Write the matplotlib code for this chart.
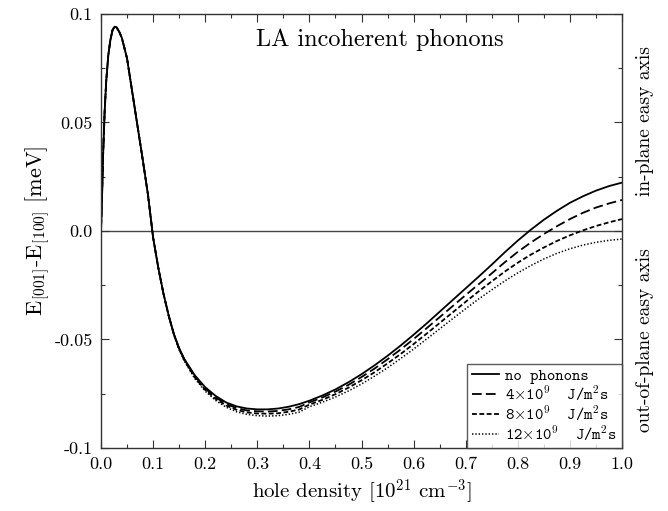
import matplotlib
matplotlib.use("Agg")
import matplotlib.pyplot as plt
from matplotlib.ticker import MultipleLocator, FixedLocator, FixedFormatter

# hole density grid [10^21 cm^-3]
density = [0.0, 0.002, 0.004, 0.007, 0.010, 0.014, 0.018, 0.022, 0.026, 0.030,
           0.035, 0.040, 0.050, 0.060, 0.070, 0.080, 0.090, 0.100, 0.110, 0.120,
           0.130, 0.140, 0.150, 0.160, 0.180, 0.200, 0.220, 0.240, 0.260, 0.280,
           0.300, 0.320, 0.340, 0.360, 0.380,
           0.400, 0.425, 0.450, 0.475, 0.500, 0.525, 0.550, 0.575, 0.600, 0.625,
           0.650, 0.675, 0.700, 0.725, 0.750, 0.775, 0.800, 0.825, 0.850, 0.875,
           0.900, 0.925, 0.950, 0.975, 1.000]

# anisotropy energy E[001]-E[100] in meV
no_phonons = [0.0, 0.016, 0.035, 0.055, 0.069, 0.081, 0.088, 0.0925, 0.0942, 0.0938,
              0.0918, 0.0890, 0.0795, 0.0640, 0.0485, 0.0330, 0.0170, -0.0030, -0.0170, -0.0290,
              -0.0390, -0.0475, -0.0540, -0.0590, -0.0665, -0.0720, -0.0760, -0.0790, -0.0808, -0.0818,
              -0.0822, -0.0822, -0.0818, -0.0810, -0.0798,
              -0.0782, -0.0758, -0.0730, -0.0697, -0.0660, -0.0619, -0.0575, -0.0528, -0.0478, -0.0426,
              -0.0372, -0.0318, -0.0264, -0.0210, -0.0155, -0.0098, -0.0044, 0.0006, 0.0052, 0.0093,
              0.0130, 0.0160, 0.0186, 0.0207, 0.0223]
flux_4 = [0.0, 0.016, 0.035, 0.055, 0.069, 0.081, 0.088, 0.0925, 0.0942, 0.0938,
          0.0918, 0.0890, 0.0795, 0.0640, 0.0485, 0.0330, 0.0170, -0.0030, -0.0170, -0.0290,
          -0.0391, -0.0477, -0.0542, -0.0593, -0.0670, -0.0726, -0.0767, -0.0797, -0.0816, -0.0827,
          -0.0831, -0.0832, -0.0829, -0.0822, -0.0811,
          -0.0790, -0.0767, -0.0740, -0.0709, -0.0673, -0.0634, -0.0591, -0.0546, -0.0498, -0.0448,
          -0.0397, -0.0346, -0.0295, -0.0245, -0.0195, -0.0144, -0.0096, -0.0053, -0.0014, 0.0022,
          0.0055, 0.0084, 0.0108, 0.0127, 0.0143]
flux_8 = [0.0, 0.016, 0.035, 0.055, 0.069, 0.081, 0.088, 0.0925, 0.0942, 0.0938,
          0.0918, 0.0890, 0.0795, 0.0640, 0.0485, 0.0330, 0.0170, -0.0030, -0.0170, -0.0290,
          -0.0392, -0.0479, -0.0545, -0.0596, -0.0675, -0.0732, -0.0774, -0.0804, -0.0824, -0.0836,
          -0.0841, -0.0842, -0.0840, -0.0833, -0.0823,
          -0.0800, -0.0778, -0.0752, -0.0722, -0.0688, -0.0651, -0.0610, -0.0567, -0.0521, -0.0473,
          -0.0424, -0.0375, -0.0326, -0.0278, -0.0232, -0.0187, -0.0146, -0.0109, -0.0076, -0.0046,
          -0.0020, 0.0003, 0.0023, 0.0040, 0.0055]
flux_12 = [0.0, 0.016, 0.035, 0.055, 0.069, 0.081, 0.088, 0.0925, 0.0942, 0.0938,
           0.0918, 0.0890, 0.0795, 0.0640, 0.0485, 0.0330, 0.0170, -0.0030, -0.0170, -0.0290,
           -0.0393, -0.0481, -0.0548, -0.0600, -0.0680, -0.0738, -0.0781, -0.0812, -0.0833, -0.0845,
           -0.0851, -0.0853, -0.0851, -0.0845, -0.0835,
           -0.0810, -0.0789, -0.0765, -0.0737, -0.0705, -0.0669, -0.0630, -0.0588, -0.0544, -0.0498,
           -0.0451, -0.0404, -0.0358, -0.0313, -0.0271, -0.0230, -0.0193, -0.0159, -0.0129, -0.0103,
           -0.0082, -0.0065, -0.0052, -0.0043, -0.0037]

labels = ['no phonons',
          r'4$\times$10$^{9}$  J/m$^{2}$s',
          r'8$\times$10$^{9}$  J/m$^{2}$s',
          r'12$\times$10$^{9}$  J/m$^{2}$s']

x_ticks = [0.0, 0.1, 0.2, 0.3, 0.4, 0.5, 0.6, 0.7, 0.8, 0.9, 1.0]
x_ticklabels = ['0.0', '0.1', '0.2', '0.3', '0.4', '0.5', '0.6', '0.7', '0.8', '0.9', '1.0']
y_ticks = [-0.1, -0.05, 0.0, 0.05, 0.1]
y_ticklabels = ['-0.1', '-0.05', '0.0', '0.05', '0.1']

plt.rcParams['mathtext.fontset'] = 'cm'
plt.rcParams['font.family'] = 'serif'
plt.rcParams['font.serif'] = ['cmr10', 'DejaVu Serif']
plt.rcParams['axes.formatter.use_mathtext'] = True
plt.rcParams['lines.scale_dashes'] = False

fig = plt.figure(figsize=(6.68, 5.11), dpi=100)
ax = fig.add_axes([0.1512, 0.1233, 0.7800, 0.8493])

ax.axhline(0, color='#444444', lw=1.0, zorder=1)

ax.plot(density, no_phonons, color='black', lw=1.3, label=labels[0])
ax.plot(density, flux_4, color='black', lw=1.3, dashes=(7, 3), label=labels[1])
ax.plot(density, flux_8, color='black', lw=1.3, dashes=(3.5, 1.8), label=labels[2])
ax.plot(density, flux_12, color='black', lw=1.1, dashes=(1, 1.4), label=labels[3])

ax.set_xlim(0, 1.0)
ax.set_ylim(-0.1, 0.1)

ax.xaxis.set_major_locator(FixedLocator(x_ticks))
ax.xaxis.set_major_formatter(FixedFormatter(x_ticklabels))
ax.xaxis.set_minor_locator(MultipleLocator(0.05))
ax.yaxis.set_major_locator(FixedLocator(y_ticks))
ax.yaxis.set_major_formatter(FixedFormatter(y_ticklabels))
ax.yaxis.set_minor_locator(MultipleLocator(0.025))

ax.tick_params(which='both', direction='in', top=True, right=True,
               labelsize=13, width=0.8, color='#333333', pad=6)
ax.tick_params(which='major', length=6)
ax.tick_params(which='minor', length=3)

for spine in ax.spines.values():
    spine.set_edgecolor('#333333')
    spine.set_linewidth(1.0)

ax.set_xlabel(r'hole density [10$^{21}$ cm$^{-3}$]', fontsize=15, labelpad=4)
ax.set_ylabel(r'E$_{[001]}$-E$_{[100]}$ [meV]', fontsize=16, labelpad=2)

ax.text(0.536, 0.088, 'LA incoherent phonons', fontsize=17.5, ha='center', va='center')

# side labels for the sign of the anisotropy
fig.text(0.9655, 0.763, 'in-plane easy axis', rotation=90, fontsize=14,
         ha='center', va='center')
fig.text(0.9655, 0.335, 'out-of-plane easy axis', rotation=90, fontsize=14,
         ha='center', va='center')

leg = ax.legend(loc='lower right', prop={'family': 'cmtt10', 'size': 11.5},
                frameon=True, fancybox=False, borderaxespad=0, handlelength=1.7,
                handletextpad=0.4, labelspacing=0.02, borderpad=0.3)
leg.get_frame().set_edgecolor('#333333')
leg.get_frame().set_linewidth(1.0)

fig.savefig('out.png', dpi=100)
